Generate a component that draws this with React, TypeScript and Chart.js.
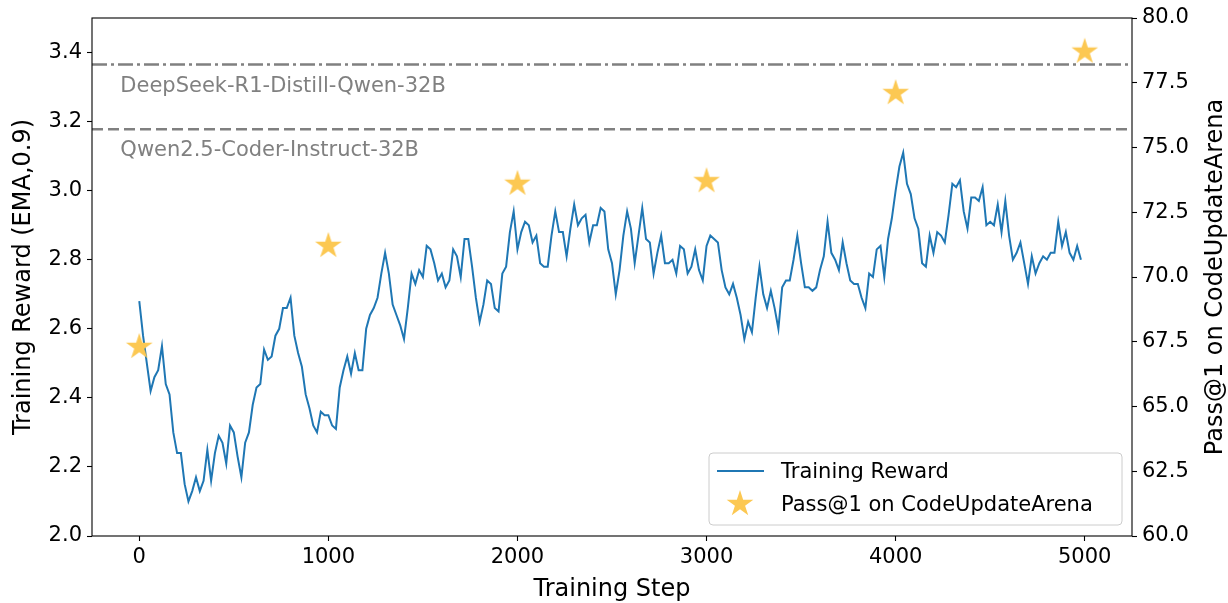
import React, { useEffect, useRef } from "react";
import { Chart, registerables } from "chart.js";

Chart.register(...registerables);

// ---------------- data ----------------
const STEP_INTERVAL = 20; // training reward logged every 20 steps (0 .. 4980)

const REWARD = [
  2.68, 2.58, 2.50, 2.42, 2.46, 2.48, 2.55, 2.44, 2.41, 2.30,
  2.24, 2.24, 2.15, 2.10, 2.13, 2.17, 2.13, 2.16, 2.25, 2.16,
  2.24, 2.29, 2.27, 2.21, 2.32, 2.30, 2.23, 2.17, 2.27, 2.30,
  2.38, 2.43, 2.44, 2.54, 2.51, 2.52, 2.58, 2.60, 2.66, 2.66,
  2.69, 2.58, 2.53, 2.49, 2.41, 2.37, 2.32, 2.30, 2.36, 2.35,
  2.35, 2.32, 2.31, 2.43, 2.48, 2.52, 2.47, 2.53, 2.48, 2.48,
  2.60, 2.64, 2.66, 2.69, 2.76, 2.82, 2.76, 2.67, 2.64, 2.61,
  2.57, 2.66, 2.76, 2.73, 2.77, 2.75, 2.84, 2.83, 2.79, 2.74,
  2.76, 2.72, 2.74, 2.83, 2.81, 2.75, 2.86, 2.86, 2.78, 2.69,
  2.62, 2.67, 2.74, 2.73, 2.66, 2.65, 2.76, 2.78, 2.88, 2.94,
  2.83, 2.88, 2.91, 2.90, 2.85, 2.87, 2.79, 2.78, 2.78, 2.87,
  2.94, 2.88, 2.88, 2.81, 2.89, 2.96, 2.90, 2.92, 2.93, 2.85,
  2.90, 2.90, 2.95, 2.94, 2.83, 2.79, 2.70, 2.77, 2.87, 2.94,
  2.89, 2.79, 2.87, 2.95, 2.86, 2.85, 2.76, 2.82, 2.87, 2.79,
  2.79, 2.80, 2.76, 2.84, 2.83, 2.76, 2.78, 2.83, 2.77, 2.74,
  2.84, 2.87, 2.86, 2.85, 2.77, 2.72, 2.70, 2.73, 2.69, 2.64,
  2.57, 2.62, 2.59, 2.69, 2.78, 2.70, 2.66, 2.71, 2.66, 2.60,
  2.72, 2.74, 2.74, 2.80, 2.87, 2.79, 2.72, 2.72, 2.71, 2.72,
  2.77, 2.81, 2.91, 2.82, 2.80, 2.77, 2.85, 2.79, 2.74, 2.73,
  2.73, 2.69, 2.66, 2.76, 2.75, 2.83, 2.84, 2.75, 2.86, 2.92,
  3.00, 3.07, 3.11, 3.02, 2.99, 2.92, 2.89, 2.79, 2.78, 2.87,
  2.82, 2.88, 2.87, 2.85, 2.93, 3.02, 3.01, 3.03, 2.94, 2.89,
  2.98, 2.98, 2.97, 3.01, 2.90, 2.91, 2.90, 2.96, 2.88, 2.97,
  2.87, 2.80, 2.82, 2.85, 2.79, 2.73, 2.81, 2.76, 2.79, 2.81,
  2.80, 2.82, 2.82, 2.91, 2.84, 2.88, 2.82, 2.80, 2.84, 2.80,
];

const PASS_STEPS = [0, 1000, 2000, 3000, 4000, 5000];
const PASS_VALUES = [67.3, 71.2, 73.6, 73.7, 77.1, 78.7];

const REF_NAMES = ["DeepSeek-R1-Distill-Qwen-32B", "Qwen2.5-Coder-Instruct-32B"];
const REF_VALUES = [78.2, 75.7];

const X_TICKS = [0, 1000, 2000, 3000, 4000, 5000];
const LEFT_TICKS = [2.0, 2.2, 2.4, 2.6, 2.8, 3.0, 3.2, 3.4];
const RIGHT_TICKS = [60.0, 62.5, 65.0, 67.5, 70.0, 72.5, 75.0, 77.5, 80.0];

const X_RANGE = [-250, 5250];
const LEFT_RANGE = [2.0, 3.5];
const RIGHT_RANGE = [60, 80];

const LINE_LABEL = "Training Reward";
const STAR_LABEL = "Pass@1 on CodeUpdateArena";
const X_TITLE = "Training Step";
const LEFT_TITLE = "Training Reward (EMA,0.9)";
const RIGHT_TITLE = "Pass@1 on CodeUpdateArena";

// ---------------- styles ----------------
const FONT = "'DejaVu Sans', 'Liberation Sans', sans-serif";
const BLUE = "#1f77b4";
const STAR_COLOR = "rgb(252,200,82)";
const GRAY = "#808080";

function makeStar(r: number, color: string): HTMLCanvasElement {
  const c = document.createElement("canvas");
  const size = Math.ceil(2 * r + 2);
  c.width = size;
  c.height = size;
  const ctx = c.getContext("2d")!;
  const cx = size / 2;
  const cy = size / 2;
  const inner = r * 0.381966;
  ctx.beginPath();
  for (let i = 0; i < 10; i++) {
    const rad = i % 2 === 0 ? r : inner;
    const a = -Math.PI / 2 + (i * Math.PI) / 5;
    const px = cx + rad * Math.cos(a);
    const py = cy + rad * Math.sin(a);
    if (i === 0) ctx.moveTo(px, py);
    else ctx.lineTo(px, py);
  }
  ctx.closePath();
  ctx.fillStyle = color;
  ctx.fill();
  return c;
}

function roundRect(ctx: CanvasRenderingContext2D, x: number, y: number, w: number, h: number, r: number) {
  ctx.beginPath();
  ctx.moveTo(x + r, y);
  ctx.lineTo(x + w - r, y);
  ctx.arcTo(x + w, y, x + w, y + r, r);
  ctx.lineTo(x + w, y + h - r);
  ctx.arcTo(x + w, y + h, x + w - r, y + h, r);
  ctx.lineTo(x + r, y + h);
  ctx.arcTo(x, y + h, x, y + h - r, r);
  ctx.lineTo(x, y + r);
  ctx.arcTo(x, y, x + r, y, r);
  ctx.closePath();
}

export default function App() {
  const ref = useRef<HTMLCanvasElement>(null);

  useEffect(() => {
    const canvas = ref.current;
    if (!canvas) return;
    const star = makeStar(14, STAR_COLOR);

    const tickFont = { family: FONT, size: 21 };
    const tickGrid = {
      display: true,
      drawOnChartArea: false,
      drawTicks: true,
      tickLength: 5,
      tickColor: "#000",
      tickWidth: 1.1,
    };

    const decor = {
      id: "decor",
      afterDatasetsDraw(chart: any) {
        const { ctx, chartArea: ca, scales } = chart;
        ctx.save();

        // reference labels
        ctx.font = `21px ${FONT}`;
        ctx.fillStyle = GRAY;
        ctx.textAlign = "left";
        ctx.textBaseline = "alphabetic";
        REF_VALUES.forEach((v, i) => {
          const y = scales.y1.getPixelForValue(v);
          ctx.fillText(REF_NAMES[i], scales.x.getPixelForValue(-100), y + 27);
        });

        // legend
        const bw = 413;
        const bh = 72;
        const bx = ca.right - 10 - bw;
        const by = ca.bottom - 11 - bh;
        roundRect(ctx, bx, by, bw, bh, 4);
        ctx.fillStyle = "rgba(255,255,255,0.8)";
        ctx.fill();
        ctx.strokeStyle = "#cccccc";
        ctx.lineWidth = 1;
        ctx.stroke();

        ctx.strokeStyle = BLUE;
        ctx.lineWidth = 2;
        ctx.beginPath();
        ctx.moveTo(bx + 8, by + 18);
        ctx.lineTo(bx + 55, by + 18);
        ctx.stroke();
        ctx.drawImage(star, bx + 31 - star.width / 2, by + 51 - star.height / 2);

        ctx.fillStyle = "#000";
        ctx.font = `21px ${FONT}`;
        ctx.fillText(LINE_LABEL, bx + 72, by + 25);
        ctx.fillText(STAR_LABEL, bx + 72, by + 58);

        // frame
        ctx.strokeStyle = "#000";
        ctx.lineWidth = 1.1;
        ctx.strokeRect(ca.left, ca.top, ca.right - ca.left, ca.bottom - ca.top);

        // axis titles
        ctx.fillStyle = "#000";
        ctx.font = `24px ${FONT}`;
        ctx.textAlign = "center";
        ctx.fillText(X_TITLE, (ca.left + ca.right) / 2, 596);

        const cy = (ca.top + ca.bottom) / 2;
        ctx.save();
        ctx.translate(29.5, cy);
        ctx.rotate(-Math.PI / 2);
        ctx.fillText(LEFT_TITLE, 0, 0);
        ctx.restore();

        ctx.save();
        ctx.translate(1222, cy);
        ctx.rotate(-Math.PI / 2);
        ctx.fillText(RIGHT_TITLE, 0, 0);
        ctx.restore();

        ctx.restore();
      },
    };

    const chart = new Chart(canvas, {
      type: "line",
      data: {
        datasets: [
          {
            label: LINE_LABEL,
            data: REWARD.map((v, i) => ({ x: i * STEP_INTERVAL, y: v })),
            yAxisID: "y",
            borderColor: BLUE,
            backgroundColor: BLUE,
            borderWidth: 2,
            pointRadius: 0,
            tension: 0,
            fill: false,
            order: 2,
          },
          {
            label: STAR_LABEL,
            data: PASS_STEPS.map((s, i) => ({ x: s, y: PASS_VALUES[i] })),
            yAxisID: "y1",
            showLine: false,
            pointStyle: star as any,
            pointRadius: 14,
            borderWidth: 0,
            order: 0,
          },
          ...REF_VALUES.map((v, i) => ({
            label: REF_NAMES[i],
            data: [
              { x: X_RANGE[0], y: v },
              { x: X_RANGE[1], y: v },
            ],
            yAxisID: "y1",
            borderColor: GRAY,
            borderWidth: 2.5,
            borderDash: i === 0 ? [15, 4, 3, 4] : [11, 5],
            pointRadius: 0,
            fill: false,
            order: 3,
          })),
        ],
      } as any,
      options: {
        animation: false,
        responsive: false,
        maintainAspectRatio: false,
        layout: { padding: { top: 18, left: 0, right: 0, bottom: 0 } },
        plugins: {
          legend: { display: false },
          tooltip: { enabled: false },
        },
        scales: {
          x: {
            type: "linear",
            min: X_RANGE[0],
            max: X_RANGE[1],
            afterBuildTicks: (s: any) => {
              s.ticks = X_TICKS.map((v) => ({ value: v }));
            },
            afterFit: (s: any) => {
              s.height = 67;
            },
            ticks: {
              font: tickFont,
              color: "#000",
              padding: 4,
              maxRotation: 0,
              autoSkip: false,
              callback: (v: any) => String(v),
            },
            grid: tickGrid,
            border: { display: false },
          },
          y: {
            type: "linear",
            position: "left",
            min: LEFT_RANGE[0],
            max: LEFT_RANGE[1],
            afterBuildTicks: (s: any) => {
              s.ticks = LEFT_TICKS.map((v) => ({ value: v }));
            },
            afterFit: (s: any) => {
              s.width = 92;
            },
            ticks: {
              font: tickFont,
              color: "#000",
              padding: 5,
              autoSkip: false,
              callback: (v: any) => Number(v).toFixed(1),
            },
            grid: tickGrid,
            border: { display: false },
          },
          y1: {
            type: "linear",
            position: "right",
            min: RIGHT_RANGE[0],
            max: RIGHT_RANGE[1],
            afterBuildTicks: (s: any) => {
              s.ticks = RIGHT_TICKS.map((v) => ({ value: v }));
            },
            afterFit: (s: any) => {
              s.width = 96;
            },
            ticks: {
              font: tickFont,
              color: "#000",
              padding: 5,
              autoSkip: false,
              callback: (v: any) => Number(v).toFixed(1),
            },
            grid: tickGrid,
            border: { display: false },
          },
        },
      } as any,
      plugins: [decor],
    });

    return () => chart.destroy();
  }, []);

  return (
    <canvas
      ref={ref}
      width={1228}
      height={603}
      style={{ position: "fixed", left: 0, top: 0, width: 1228, height: 603, display: "block" }}
    />
  );
}
